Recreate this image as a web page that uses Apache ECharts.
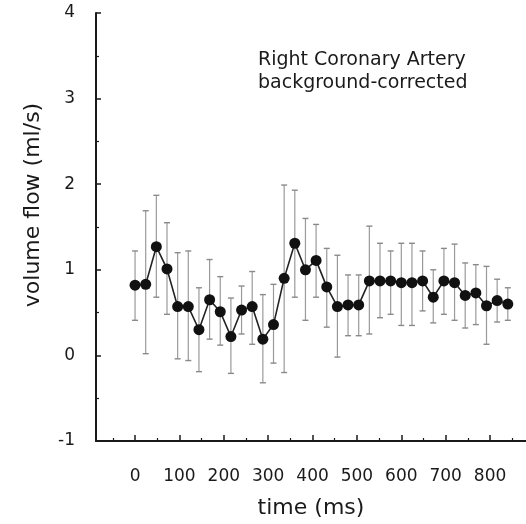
<!DOCTYPE html>
<html>
<head>
<meta charset="utf-8">
<script src="https://cdn.jsdelivr.net/npm/echarts@6/dist/echarts.min.js"></script>
<style>
  html, body { margin: 0; padding: 0; background: #fff; }
  #chart { width: 526px; height: 524px; }
</style>
</head>
<body>
<div id="chart"></div>
<script>
// Sample times (ms) within the cardiac cycle
const timeMs = [0, 24, 48, 72, 96, 120, 144, 168, 192, 216, 240, 264,
                288, 312, 336, 360, 384, 408, 432, 456, 480, 504, 528, 552,
                576, 600, 624, 648, 672, 696, 720, 744, 768, 792, 816, 840];

// Mean volume flow (ml/s)
const flowMean = [0.82, 0.83, 1.27, 1.01, 0.57, 0.57, 0.30, 0.65, 0.51, 0.22, 0.53, 0.57,
                  0.19, 0.36, 0.90, 1.31, 1.00, 1.11, 0.80, 0.57, 0.59, 0.59, 0.87, 0.87,
                  0.87, 0.85, 0.85, 0.87, 0.68, 0.87, 0.85, 0.70, 0.73, 0.58, 0.64, 0.60];

// Error bar ends (ml/s)
const flowUpper = [1.22, 1.69, 1.87, 1.55, 1.20, 1.22, 0.79, 1.12, 0.92, 0.67, 0.81, 0.98,
                   0.71, 0.83, 1.99, 1.93, 1.60, 1.53, 1.25, 1.17, 0.94, 0.94, 1.51, 1.31,
                   1.22, 1.31, 1.31, 1.22, 1.00, 1.25, 1.30, 1.08, 1.06, 1.04, 0.89, 0.79];
const flowLower = [0.41, 0.02, 0.68, 0.48, -0.04, -0.06, -0.19, 0.19, 0.12, -0.21, 0.25, 0.13,
                   -0.32, -0.09, -0.20, 0.68, 0.41, 0.68, 0.33, -0.02, 0.23, 0.23, 0.25, 0.44,
                   0.48, 0.35, 0.35, 0.52, 0.38, 0.48, 0.41, 0.32, 0.36, 0.13, 0.39, 0.41];

// Axis tick positions
const xTickValues = [0, 100, 200, 300, 400, 500, 600, 700, 800];
const xMinorTickValues = [-50, 50, 150, 250, 350, 450, 550, 650, 750, 850];

const FONT = 'DejaVu Sans';
const INK = '#1a1a1a';

const chart = echarts.init(document.getElementById('chart'), null, { renderer: 'canvas' });

const errorBars = timeMs.map((t, i) => [t, flowLower[i], flowUpper[i]]);
const meanPoints = timeMs.map((t, i) => [t, flowMean[i]]);

chart.setOption({
  animation: false,
  backgroundColor: '#fff',
  grid: { left: 96, right: 0, top: 13, bottom: 83, containLabel: false },
  xAxis: [
    {
      type: 'value',
      min: -88,
      max: 881,
      name: 'time (ms)',
      nameLocation: 'middle',
      nameGap: 56,
      nameTextStyle: { fontFamily: FONT, fontSize: 22, color: INK },
      axisLine: { show: true, onZero: false, lineStyle: { color: INK, width: 2 } },
      axisTick: { show: true, inside: true, length: 6, customValues: xTickValues,
                  lineStyle: { color: INK, width: 1.5 } },
      axisLabel: { customValues: xTickValues, margin: 27, fontFamily: FONT,
                   fontSize: 17, color: INK },
      splitLine: { show: false }
    },
    {
      // minor ticks between the labelled times
      type: 'value',
      min: -88,
      max: 881,
      position: 'bottom',
      axisLine: { show: false, onZero: false },
      axisTick: { show: true, inside: true, length: 3, customValues: xMinorTickValues,
                  lineStyle: { color: INK, width: 1.2 } },
      axisLabel: { show: false },
      splitLine: { show: false }
    }
  ],
  yAxis: {
    type: 'value',
    min: -1,
    max: 4,
    interval: 1,
    name: 'volume flow (ml/s)',
    nameLocation: 'middle',
    nameGap: 52,
    nameTextStyle: { fontFamily: FONT, fontSize: 22, color: INK, padding: [0, 0, 0, 44] },
    axisLine: { show: true, onZero: false, lineStyle: { color: INK, width: 2 } },
    axisTick: { show: true, inside: true, length: 5, lineStyle: { color: INK, width: 1.5 } },
    minorTick: { show: true, splitNumber: 2, length: 3, lineStyle: { color: INK, width: 1.2 } },
    axisLabel: { margin: 21, fontFamily: FONT, fontSize: 17, color: INK },
    splitLine: { show: false }
  },
  graphic: [
    {
      type: 'text',
      left: 258,
      top: 49,
      silent: true,
      style: {
        text: 'Right Coronary Artery\nbackground-corrected',
        fontFamily: FONT,
        fontSize: 19,
        lineHeight: 23,
        fill: INK
      }
    }
  ],
  series: [
    {
      type: 'custom',
      xAxisIndex: 0,
      yAxisIndex: 0,
      silent: true,
      z: 1,
      data: errorBars,
      encode: { x: 0, y: [1, 2] },
      renderItem: function (params, api) {
        const x = api.value(0);
        const lo = api.coord([x, api.value(1)]);
        const hi = api.coord([x, api.value(2)]);
        const hw = 3;
        const barStyle = { stroke: '#9a9a9a', lineWidth: 1.2 };
        const capStyle = { stroke: '#8a8a8a', lineWidth: 1.4 };
        return {
          type: 'group',
          children: [
            { type: 'line', shape: { x1: lo[0], y1: lo[1], x2: hi[0], y2: hi[1] }, style: barStyle },
            { type: 'line', shape: { x1: hi[0] - hw, y1: hi[1], x2: hi[0] + hw, y2: hi[1] }, style: capStyle },
            { type: 'line', shape: { x1: lo[0] - hw, y1: lo[1], x2: lo[0] + hw, y2: lo[1] }, style: capStyle }
          ]
        };
      }
    },
    {
      type: 'line',
      xAxisIndex: 0,
      yAxisIndex: 0,
      z: 3,
      data: meanPoints,
      symbol: 'circle',
      symbolSize: 11,
      itemStyle: { color: '#111' },
      lineStyle: { color: '#222', width: 1.6 }
    }
  ]
});
</script>
</body>
</html>
